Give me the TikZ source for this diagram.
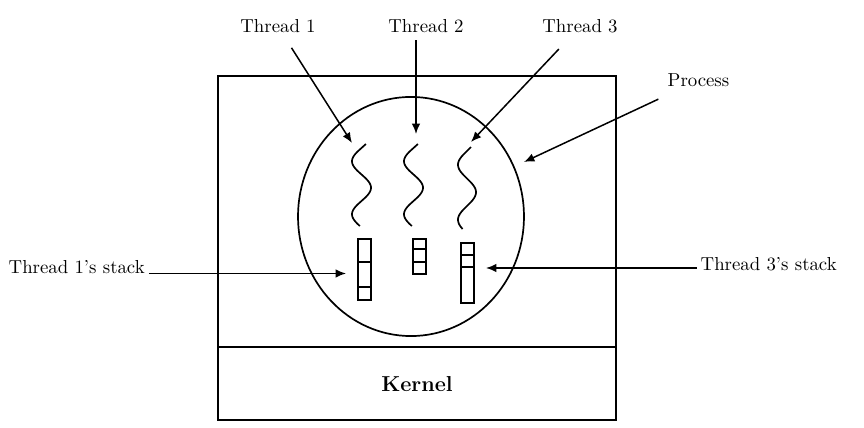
\documentclass[tikz,border=0pt]{standalone}
\usetikzlibrary{arrows.meta}
\begin{document}
\begin{tikzpicture}[x=0.532pt,y=-0.532pt,
  line width=0.8pt,
  lbl/.style={inner sep=3.33pt},
  ptr/.style={-{Latex[length=5.5pt,width=4.5pt]}},
  frame/.style={draw,line width=1pt},
  stackbox/.style={draw,line width=0.9pt},
  wave/.style={line width=0.9pt}]
\useasboundingbox (0,0) rectangle (864,428);

% machine box with the kernel strip
\draw[frame] (218,76) rectangle (616,420);
\draw[frame] (218,347) -- (616,347);
\node[lbl,anchor=base,font=\fontsize{11.5pt}{14pt}\selectfont\bfseries] (kernel) at (417,391.7) {Kernel};

% the process
\draw[line width=0.9pt] (411,216.5) ellipse [x radius=60.1pt, y radius=63.6pt];

% threads of control
\draw[wave] plot[domain=144:226,samples=80,variable=\t] ({361.5-9.5*sin((\t-148)/53*360)},\t);
\draw[wave] plot[domain=144:226,samples=80,variable=\t] ({413.5-9.5*sin((\t-148)/53*360)},\t);
\draw[wave] plot[domain=147:229,samples=80,variable=\t] ({467-9*sin((\t-151)/55*360)},\t);

% per-thread stacks
\draw[stackbox] (358,239) rectangle (371,300);
\draw[stackbox] (358,262) -- (371,262) (358,287) -- (371,287);
\draw[stackbox] (413,239) rectangle (426,274);
\draw[stackbox] (413,249) -- (426,249) (413,262) -- (426,262);
\draw[stackbox] (461,243) rectangle (474,303);
\draw[stackbox] (461,255) -- (474,255) (461,267) -- (474,267);

% labels
\node[lbl,anchor=base] (th1) at (278,33) {Thread 1};
\node[lbl,anchor=base] (th2) at (426,33) {Thread 2};
\node[lbl,anchor=base] (th3) at (580,33) {Thread 3};
\node[lbl,anchor=base] (proc) at (698.5,86.7) {Process};
\node[lbl,anchor=base west] (st1) at (1.7,273.5) {Thread 1's stack};
\node[lbl,anchor=base west] (st3) at (693.7,270.7) {Thread 3's stack};

% arrow targets
\coordinate (th1tip) at (352,143);
\coordinate (th2tip) at (416,134);
\coordinate (th3tip) at (471,142);
\coordinate (proctip) at (524,162);
\coordinate (st1tip) at (346,273.5);
\coordinate (st3tip) at (486,268);

% pointers
\draw[ptr,shorten <=4.8pt] (th1) -- (th1tip);
\draw[ptr] (th2.south -| th2tip) -- (th2tip);
\draw[ptr,shorten <=6.3pt] (th3) -- (th3tip);
\draw[ptr,shorten <=6.6pt] (proc) -- (proctip);
\draw[ptr,shorten <=-1.5pt] (st1.base east) -- (st1tip);
\draw[ptr,shorten <=-1.5pt] (st3.base west |- st3tip) -- (st3tip);
\end{tikzpicture}
\end{document}
